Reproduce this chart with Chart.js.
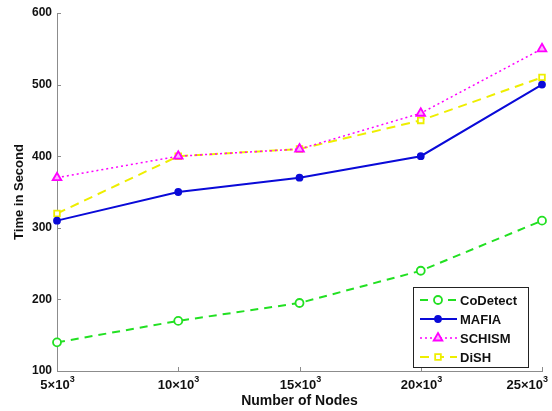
<!DOCTYPE html>
<html>
<head>
<meta charset="utf-8">
<script src="https://cdn.jsdelivr.net/npm/chart.js@4"></script>
<style>
  html, body { margin: 0; padding: 0; background: #fff; }
  #wrap { width: 552px; height: 411px; }
</style>
</head>
<body>
<div id="wrap"><canvas id="myGraf" width="552" height="411"></canvas></div>
<script>
// data
var nodes = ['5', '10', '15', '20', '25'];
var coDetect = [140, 170, 195, 240, 310];
var mafia = [310, 350, 370, 400, 500];
var schism = [370, 400, 410, 460, 550];
var dish = [320, 400, 410, 450, 510];

var axisColor = '#8c8c8c';
var fontFam = "'Liberation Sans', Arial, sans-serif";

var series = [
    { label: 'CoDetect', data: coDetect, color: '#22e022', fill: '#ffffff', dash: [8, 6], style: 'circle', r: 4, lw: 2 },
    { label: 'MAFIA', data: mafia, color: '#0a0ad8', fill: '#0a0ad8', dash: [], style: 'circle', r: 3, lw: 2 },
    { label: 'SCHISM', data: schism, color: '#ff00ff', fill: '#ffb0ff', dash: [2, 3], style: 'triangle', r: 5, lw: 1.5 },
    { label: 'DiSH', data: dish, color: '#eeee00', fill: '#ffffff', dash: [9, 6], style: 'rect', r: 4, lw: 2 }
];

function drawMarker(ctx, ds, x, y) {
    ctx.save();
    ctx.setLineDash([]);
    ctx.strokeStyle = ds.pointBorderColor;
    ctx.fillStyle = ds.pointBackgroundColor;
    ctx.lineWidth = ds.pointBorderWidth;
    Chart.helpers.drawPoint(ctx, {
        pointStyle: ds.pointStyle,
        radius: ds.pointRadius,
        borderWidth: ds.pointBorderWidth
    }, x, y);
    ctx.restore();
}

// inward ticks, x labels as N×10^3 and the legend box inside the plot
var extras = {
    id: 'extras',
    afterDraw: function(chart) {
        var ctx = chart.ctx;
        var xs = chart.scales.x, ys = chart.scales.y;
        var area = chart.chartArea;
        ctx.save();
        ctx.strokeStyle = axisColor;
        ctx.lineWidth = 1;
        ys.ticks.forEach(function(t, i) {
            var py = Math.round(ys.getPixelForTick(i)) + 0.5;
            ctx.beginPath();
            ctx.moveTo(area.left, py);
            ctx.lineTo(area.left + 4, py);
            ctx.stroke();
        });
        ctx.fillStyle = '#111';
        ctx.textBaseline = 'alphabetic';
        ctx.textAlign = 'left';
        nodes.forEach(function(n, i) {
            var px = Math.round(xs.getPixelForTick(i)) + 0.5;
            ctx.beginPath();
            ctx.moveTo(px, area.bottom);
            ctx.lineTo(px, area.bottom - 4);
            ctx.stroke();
            ctx.font = 'bold 13px ' + fontFam;
            var base = n + '\u00d710';
            var w1 = ctx.measureText(base).width;
            ctx.font = 'bold 9px ' + fontFam;
            var total = w1 + ctx.measureText('3').width;
            var left = px - total / 2;
            if (left + total > chart.width - 4) left = chart.width - 4 - total;
            if (left < 2) left = 2;
            ctx.font = 'bold 13px ' + fontFam;
            ctx.fillText(base, left, area.bottom + 18);
            ctx.font = 'bold 9px ' + fontFam;
            ctx.fillText('3', left + w1, area.bottom + 11);
        });

        // legend
        var bx = 413, by = 287, bw = 115, bh = 80;
        ctx.fillStyle = '#fff';
        ctx.fillRect(bx, by, bw, bh);
        ctx.strokeStyle = '#222';
        ctx.strokeRect(bx + 0.5, by + 0.5, bw, bh);
        chart.data.datasets.forEach(function(ds, i) {
            var ly = by + 13 + i * 19;
            ctx.save();
            ctx.strokeStyle = ds.borderColor;
            ctx.lineWidth = ds.borderWidth;
            ctx.setLineDash(ds.borderDash || []);
            ctx.beginPath();
            ctx.moveTo(bx + 7, ly);
            ctx.lineTo(bx + 44, ly);
            ctx.stroke();
            ctx.restore();
            drawMarker(ctx, ds, bx + 25, ly);
            ctx.fillStyle = '#111';
            ctx.font = 'bold 13px ' + fontFam;
            ctx.textAlign = 'left';
            ctx.textBaseline = 'middle';
            ctx.fillText(ds.label, bx + 47, ly + 1);
        });
        ctx.restore();
    }
};

var ctx = document.getElementById('myGraf').getContext('2d');

var config = {
    type: 'line',
    data: {
        labels: nodes,
        datasets: series.map(function(s) {
            return {
                label: s.label,
                data: s.data,
                borderColor: s.color,
                backgroundColor: s.fill,
                pointBackgroundColor: s.fill,
                pointBorderColor: s.color,
                borderWidth: s.lw,
                pointBorderWidth: 1.8,
                borderDash: s.dash,
                pointStyle: s.style,
                pointRadius: s.r,
                tension: 0,
                fill: false
            };
        })
    },
    options: {
        responsive: false,
        animation: false,
        layout: { padding: { top: 13, right: 10, left: 0, bottom: 0 } },
        plugins: {
            legend: { display: false },
            tooltip: { enabled: false }
        },
        scales: {
            x: {
                type: 'category',
                offset: false,
                grid: { display: false, drawTicks: false },
                border: { display: true, color: axisColor, width: 1 },
                ticks: { display: false },
                title: {
                    display: true,
                    text: 'Number of Nodes',
                    font: { family: fontFam, size: 14, weight: 'bold' },
                    color: '#111',
                    padding: { top: 0, bottom: 1 }
                },
                afterFit: function(scale) { scale.height = 40; }
            },
            y: {
                min: 100,
                max: 600,
                grid: { display: false, drawTicks: false },
                border: { display: true, color: axisColor, width: 1 },
                ticks: {
                    stepSize: 100,
                    padding: 5,
                    color: '#111',
                    font: { family: fontFam, size: 12, weight: 'bold' }
                },
                title: {
                    display: true,
                    text: 'Time in Second',
                    font: { family: fontFam, size: 13, weight: 'bold' },
                    color: '#111',
                    padding: { top: 12, bottom: 0 }
                },
                afterFit: function(scale) { scale.width = 57; }
            }
        }
    },
    plugins: [extras]
};

var myGraf = new Chart(ctx, config);
</script>
</body>
</html>
